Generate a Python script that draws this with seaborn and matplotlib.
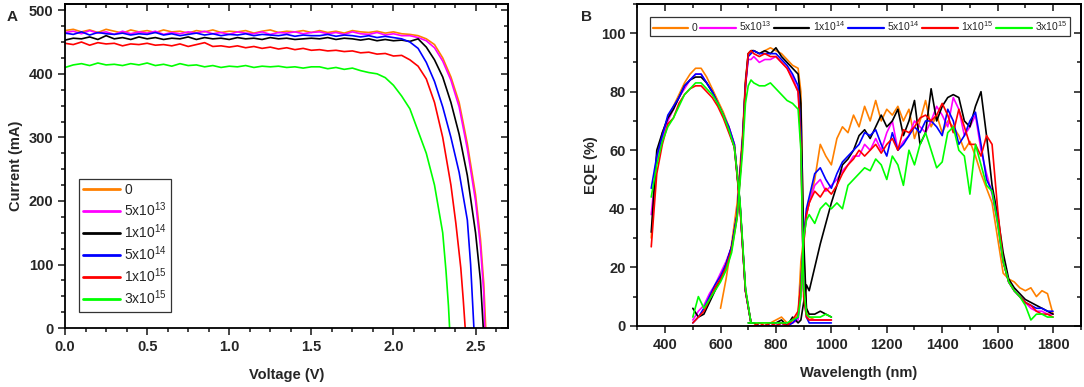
import numpy as np
import matplotlib
matplotlib.use("Agg")
import matplotlib.pyplot as plt
from matplotlib.ticker import MultipleLocator
from matplotlib.lines import Line2D
import seaborn as sns

# series labels and colours (same for both panels)
labels = ["0", r"5x10$^{13}$", r"1x10$^{14}$", r"5x10$^{14}$", r"1x10$^{15}$", r"3x10$^{15}$"]
colors = ["#FF8000", "#FF00FF", "#000000", "#0000FF", "#FF0000", "#00FF00"]

# ---------------- panel A : I-V curves ----------------
v_flat = [0.00, 0.05, 0.10, 0.15, 0.20, 0.25, 0.30, 0.35, 0.40, 0.45, 0.50, 0.55, 0.60, 0.65, 0.70, 0.75,
          0.80, 0.85, 0.90, 0.95, 1.00, 1.05, 1.10, 1.15, 1.20, 1.25, 1.30, 1.35, 1.40, 1.45, 1.50]

i_flat_0 = [468, 470, 466, 469, 465, 470, 467, 464, 469, 466, 468, 465, 469, 466, 467, 464,
            468, 466, 469, 465, 467, 466, 468, 464, 467, 469, 465, 467, 466, 468, 465]
i_flat_5e13 = [465, 467, 463, 468, 464, 466, 462, 467, 463, 466, 464, 467, 462, 465, 463, 466,
               464, 467, 463, 465, 462, 466, 464, 463, 466, 462, 465, 464, 466, 463, 465]
i_flat_1e14 = [453, 456, 455, 458, 454, 460, 455, 457, 454, 458, 455, 457, 454, 456, 455, 458,
               454, 457, 455, 456, 454, 457, 455, 456, 454, 457, 455, 456, 454, 455, 456]
i_flat_5e14 = [464, 462, 466, 461, 465, 463, 462, 464, 461, 463, 462, 465, 461, 463, 460, 462,
               464, 461, 463, 460, 462, 461, 463, 460, 462, 461, 460, 462, 459, 461, 460]
i_flat_1e15 = [448, 446, 450, 445, 449, 447, 448, 444, 447, 446, 448, 445, 446, 444, 447, 443,
               446, 449, 443, 444, 442, 444, 441, 443, 440, 442, 439, 441, 438, 440, 437]
i_flat_3e15 = [410, 414, 416, 413, 417, 414, 415, 413, 416, 414, 417, 413, 415, 412, 416, 413,
               414, 411, 413, 410, 412, 411, 413, 410, 412, 411, 412, 410, 411, 409, 411]

v_tail_0 = [1.55, 1.60, 1.65, 1.70, 1.75, 1.80, 1.85, 1.90, 1.95, 2.00, 2.05, 2.10, 2.15, 2.20,
            2.25, 2.30, 2.35, 2.40, 2.45, 2.50, 2.53, 2.55, 2.562]
i_tail_0 = [468, 465, 467, 464, 468, 466, 465, 467, 464, 466, 463, 462, 460, 455,
            446, 425, 395, 355, 290, 210, 140, 70, 0]
v_tail_5e13 = [1.55, 1.60, 1.65, 1.70, 1.75, 1.80, 1.85, 1.90, 1.95, 2.00, 2.05, 2.10, 2.15, 2.20,
               2.25, 2.30, 2.35, 2.40, 2.45, 2.50, 2.53, 2.55, 2.556]
i_tail_5e13 = [466, 463, 465, 462, 466, 463, 462, 465, 461, 463, 460, 460, 457, 452,
               441, 420, 390, 348, 282, 200, 128, 55, 0]
v_tail_1e14 = [1.55, 1.60, 1.65, 1.70, 1.75, 1.80, 1.85, 1.90, 1.95, 2.00, 2.05, 2.10, 2.15, 2.20,
               2.25, 2.30, 2.35, 2.40, 2.45, 2.50, 2.53, 2.547]
i_tail_1e14 = [455, 457, 454, 456, 455, 453, 455, 452, 454, 452, 453, 451, 455, 442,
               422, 395, 355, 305, 240, 150, 75, 0]
v_tail_5e14 = [1.55, 1.60, 1.65, 1.70, 1.75, 1.80, 1.85, 1.90, 1.95, 2.00, 2.05, 2.10, 2.15, 2.20,
               2.25, 2.30, 2.35, 2.40, 2.45, 2.47, 2.49]
i_tail_5e14 = [460, 462, 459, 461, 460, 458, 460, 457, 459, 457, 455, 450, 440, 418,
               388, 348, 300, 245, 170, 100, 0]
v_tail_1e15 = [1.55, 1.60, 1.65, 1.70, 1.75, 1.80, 1.85, 1.90, 1.95, 2.00, 2.05, 2.10, 2.15, 2.20,
               2.25, 2.30, 2.35, 2.38, 2.41, 2.425, 2.437]
i_tail_1e15 = [438, 436, 437, 435, 436, 433, 434, 431, 432, 428, 429, 422, 412, 392,
               355, 300, 225, 165, 95, 45, 0]
v_tail_3e15 = [1.55, 1.60, 1.65, 1.70, 1.75, 1.80, 1.85, 1.90, 1.95, 2.00, 2.05, 2.10, 2.15, 2.20,
               2.25, 2.30, 2.32, 2.335, 2.342]
i_tail_3e15 = [411, 408, 410, 407, 409, 405, 402, 400, 394, 382, 365, 345, 310, 275,
               225, 150, 90, 35, 0]

# ---------------- panel B : EQE spectra ----------------
w_top = [350, 370, 390, 410, 430, 450, 470, 490, 510, 530, 550, 570, 590, 610, 630, 650, 670, 690, 710]
w_mid = [500, 520, 540, 560, 580, 600, 620, 640, 660, 680, 690, 700, 710, 720, 740, 760, 780, 800,
         820, 840, 860, 880, 890, 900, 910, 920, 940, 960, 980, 1000]
w_bot = [700, 720, 740, 760, 780, 800, 820, 840, 860, 880, 890, 900, 910,
         920, 940, 960, 980, 1000, 1020, 1040, 1060, 1080, 1100, 1120, 1140, 1160, 1180, 1200,
         1220, 1240, 1260, 1280, 1300, 1320, 1340, 1360, 1380, 1400, 1420, 1440, 1460, 1480, 1500,
         1520, 1540, 1560, 1580, 1600, 1620, 1640, 1660, 1680, 1700, 1720, 1740, 1760, 1780, 1800]

top_0 = [30, 58, 66, 71, 75, 79, 83, 86, 88, 88, 85, 81, 77, 73, 68, 62, 42, 12, 1]
top_5e13 = [38, 57, 64, 70, 74, 78, 81, 84, 86, 86, 83, 80, 76, 72, 68, 62, 42, 12, 1]
top_1e14 = [32, 60, 66, 71, 74, 78, 82, 84, 85, 85, 83, 80, 76, 72, 67, 61, 42, 12, 1]
top_5e14 = [47, 58, 65, 72, 75, 78, 82, 84, 86, 86, 83, 80, 76, 72, 68, 62, 42, 12, 1]
top_1e15 = [27, 52, 62, 69, 71, 76, 79, 81, 82, 82, 80, 78, 75, 71, 66, 61, 41, 12, 1]
top_3e15 = [44, 55, 63, 68, 71, 75, 79, 81, 83, 83, 81, 79, 76, 72, 67, 61, 43, 13, 1]

nan = np.nan
mid_0 = [nan, nan, nan, nan, nan, 6, 16, 28, 42, 66, 84, 93, 94, 94, 93, 94, 95, 94,
         93, 91, 89, 88, 80, 25, 6, 3, 2, 2, 2, 2]
mid_5e13 = [2, 5, 7, 11, 14, 18, 22, 27, 38, 64, 82, 91, 91, 92, 90, 91, 91, 92,
            90, 88, 85, 80, 65, 12, 4, 2, 2, 2, 2, 2]
mid_1e14 = [6, 3, 4, 8, 12, 16, 21, 27, 38, 64, 83, 93, 94, 94, 93, 94, 93, 95,
            92, 90, 88, 86, 76, 30, 6, 4, 4, 5, 4, 3]
mid_5e14 = [1, 3, 6, 10, 14, 17, 21, 27, 38, 64, 82, 92, 93, 94, 93, 93, 93, 93,
            91, 89, 86, 82, 66, 12, 3, 1, 1, 1, 1, 1]
mid_1e15 = [1, 3, 5, 9, 13, 16, 20, 26, 37, 63, 82, 93, 94, 93, 92, 93, 92, 92,
            90, 88, 84, 80, 62, 10, 3, 2, 2, 2, 2, 2]
mid_3e15 = [3, 10, 6, 9, 12, 15, 19, 25, 37, 60, 76, 82, 84, 83, 82, 82, 83, 81,
            79, 77, 76, 74, 60, 14, 4, 3, 3, 3, 4, 3]

bot_0 = [0, 0, 1, 1, 1, 2, 3, 1, 1, 4, 22, 30, 38,
         42, 50, 62, 58, 55, 64, 68, 66, 72, 68, 75, 70, 77, 70, 74,
         72, 75, 70, 74, 64, 70, 77, 68, 72, 66, 70, 68, 65, 60, 63,
         58, 52, 47, 42, 30, 18, 16, 15, 13, 12, 13, 10, 12, 11, 4]
bot_5e13 = [0, 0, 0, 0, 1, 0, 1, 0, 1, 2, 10, 28, 38,
            42, 48, 50, 46, 48, 50, 53, 55, 58, 58, 62, 60, 64, 60, 66,
            70, 60, 63, 65, 70, 68, 66, 70, 75, 72, 68, 78, 74, 65, 68,
            72, 60, 52, 45, 35, 22, 15, 12, 10, 8, 6, 5, 5, 4, 4]
bot_1e14 = [1, 1, 0, 0, 1, 1, 2, 0, 3, 1, 2, 8, 14,
            12, 20, 28, 35, 42, 48, 55, 57, 60, 65, 67, 64, 68, 72, 68,
            70, 74, 65, 70, 77, 62, 66, 81, 70, 75, 78, 79, 78, 70, 68,
            75, 80, 65, 48, 38, 25, 16, 13, 11, 9, 8, 7, 6, 5, 4]
bot_5e14 = [0, 0, 0, 0, 0, 0, 1, 0, 1, 3, 15, 30, 40,
            44, 52, 54, 50, 47, 52, 56, 58, 60, 62, 66, 65, 67, 62, 58,
            66, 60, 62, 65, 68, 66, 70, 70, 68, 65, 74, 70, 62, 65, 70,
            73, 62, 50, 46, 36, 22, 15, 12, 10, 8, 7, 6, 6, 5, 5]
bot_1e15 = [0, 0, 1, 0, 1, 0, 1, 0, 2, 5, 14, 28, 38,
            42, 46, 44, 47, 45, 48, 52, 55, 57, 60, 58, 60, 62, 59, 62,
            64, 60, 67, 66, 68, 71, 72, 70, 72, 76, 72, 66, 74, 68, 62,
            62, 58, 65, 62, 40, 22, 15, 12, 10, 8, 7, 5, 4, 4, 3]
bot_3e15 = [1, 1, 1, 1, 1, 1, 1, 1, 2, 3, 10, 30, 36,
            38, 35, 40, 42, 40, 42, 40, 48, 50, 52, 54, 53, 57, 55, 50,
            58, 55, 48, 60, 55, 62, 66, 60, 54, 56, 66, 68, 60, 58, 45,
            62, 55, 48, 46, 35, 22, 15, 12, 10, 7, 2, 4, 4, 3, 3]

iv_flat = [i_flat_0, i_flat_5e13, i_flat_1e14, i_flat_5e14, i_flat_1e15, i_flat_3e15]
iv_vtail = [v_tail_0, v_tail_5e13, v_tail_1e14, v_tail_5e14, v_tail_1e15, v_tail_3e15]
iv_itail = [i_tail_0, i_tail_5e13, i_tail_1e14, i_tail_5e14, i_tail_1e15, i_tail_3e15]
eqe_top = [top_0, top_5e13, top_1e14, top_5e14, top_1e15, top_3e15]
eqe_mid = [mid_0, mid_5e13, mid_1e14, mid_5e14, mid_1e15, mid_3e15]
eqe_bot = [bot_0, bot_5e13, bot_1e14, bot_5e14, bot_1e15, bot_3e15]

sns.set_style("ticks")
plt.rcParams['font.family'] = ['Liberation Sans', 'DejaVu Sans']
plt.rcParams['mathtext.fontset'] = 'custom'
plt.rcParams['mathtext.rm'] = 'Liberation Sans'
plt.rcParams['axes.linewidth'] = 1.3

fig = plt.figure(figsize=(10.84, 3.87), dpi=100)
axA = fig.add_axes([0.060, 0.152, 0.409, 0.838])
axB = fig.add_axes([0.588, 0.158, 0.409, 0.832])


def style_axes(ax, xmaj, xmin, ymaj, ymin):
    ax.xaxis.set_major_locator(MultipleLocator(xmaj))
    ax.xaxis.set_minor_locator(MultipleLocator(xmin))
    ax.yaxis.set_major_locator(MultipleLocator(ymaj))
    ax.yaxis.set_minor_locator(MultipleLocator(ymin))
    ax.tick_params(which='both', direction='out', top=False, right=False, width=1.2, labelsize=10.5)
    ax.tick_params(which='major', length=5)
    ax.tick_params(which='minor', length=3)
    for lab in ax.get_xticklabels() + ax.get_yticklabels():
        lab.set_fontweight('bold')
    for s in ax.spines.values():
        s.set_color('black')
    # inward ticks on top and right, no labels
    top = ax.secondary_xaxis('top', functions=(lambda x: x, lambda x: x))
    top.xaxis.set_major_locator(MultipleLocator(xmaj))
    top.xaxis.set_minor_locator(MultipleLocator(xmin))
    top.tick_params(which='both', direction='in', labeltop=False, width=1.2)
    top.tick_params(which='major', length=5)
    top.tick_params(which='minor', length=3)
    right = ax.secondary_yaxis('right', functions=(lambda y: y, lambda y: y))
    right.yaxis.set_major_locator(MultipleLocator(ymaj))
    right.yaxis.set_minor_locator(MultipleLocator(ymin))
    right.tick_params(which='both', direction='in', labelright=False, width=1.2)
    right.tick_params(which='major', length=5)
    right.tick_params(which='minor', length=3)


# panel A
for k in range(6):
    v = v_flat + iv_vtail[k]
    i = iv_flat[k] + iv_itail[k]
    sns.lineplot(x=v, y=i, ax=axA, color=colors[k], lw=1.2, sort=False, estimator=None)

axA.set_xlim(0, 2.7)
axA.set_ylim(0, 510)
axA.set_xlabel("Voltage (V)", fontsize=10.5, fontweight='bold', labelpad=10)
axA.set_ylabel("Current (mA)", fontsize=10.5, fontweight='bold')
style_axes(axA, 0.5, 0.125, 100, 25)

handles = [Line2D([], [], color=c, lw=2) for c in colors]
legA = axA.legend(handles, labels, loc='lower left', bbox_to_anchor=(0.015, 0.03), fontsize=10,
                  handlelength=2.7, handletextpad=0.3, labelspacing=0.25, borderpad=0.3,
                  fancybox=False, edgecolor='#333333', framealpha=1)
legA.get_frame().set_linewidth(0.9)

# panel B
for k in range(6):
    sns.lineplot(x=w_top, y=eqe_top[k], ax=axB, color=colors[k], lw=1.2, sort=False, estimator=None)
    sns.lineplot(x=w_mid, y=eqe_mid[k], ax=axB, color=colors[k], lw=1.2, sort=False, estimator=None)
    sns.lineplot(x=w_bot, y=eqe_bot[k], ax=axB, color=colors[k], lw=1.2, sort=False, estimator=None)

axB.set_xlim(300, 1900)
axB.set_ylim(0, 110)
axB.set_xlabel("Wavelength (nm)", fontsize=10.5, fontweight='bold', labelpad=10)
axB.set_ylabel("EQE (%)", fontsize=10.5, fontweight='bold', labelpad=2)
style_axes(axB, 200, 100, 20, 10)

handles = [Line2D([], [], color=c, lw=1.6) for c in colors]
legB = axB.legend(handles, labels, loc='lower left', bbox_to_anchor=(0.029, 0.9, 0.946, 0.075),
                  mode='expand', ncol=6, fontsize=7.5, handlelength=3.4, handletextpad=0.3,
                  columnspacing=0.6, borderpad=0.25, fancybox=False, edgecolor='#333333',
                  framealpha=1, borderaxespad=0)
legB.get_frame().set_linewidth(0.9)

fig.text(0.006, 0.945, "A", fontsize=11, fontweight='bold')
fig.text(0.536, 0.945, "B", fontsize=11, fontweight='bold')

fig.savefig("out.png", dpi=100)
